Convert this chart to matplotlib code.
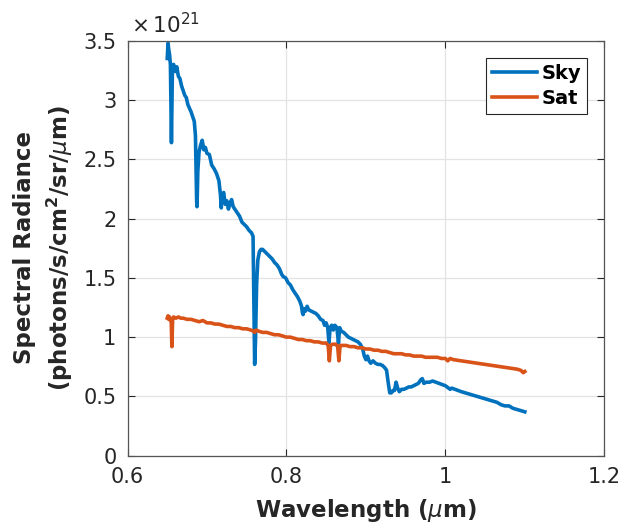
import matplotlib
matplotlib.use("Agg")
import matplotlib.pyplot as plt
from matplotlib.ticker import FixedLocator, FuncFormatter

plt.rcParams['font.family'] = ['DejaVu Sans']
plt.rcParams['mathtext.fontset'] = 'dejavusans'

# Wavelength grid (micrometres) and radiance in units of 1e21 photons/s/cm^2/sr/um
sky_wavelength = [
    0.650, 0.651, 0.652, 0.653, 0.654, 0.6553, 0.6565, 0.658, 0.660, 0.662,
    0.664, 0.666, 0.668, 0.670, 0.672, 0.674, 0.676, 0.678, 0.680, 0.682,
    0.684, 0.6855, 0.6870, 0.6875, 0.6885, 0.690, 0.692, 0.694, 0.696, 0.698,
    0.700, 0.703, 0.706, 0.709, 0.712, 0.715, 0.717, 0.718, 0.719, 0.721,
    0.723, 0.725, 0.727, 0.729, 0.731, 0.733, 0.735, 0.738, 0.741, 0.744,
    0.747, 0.750, 0.753, 0.756, 0.758, 0.7592, 0.7600, 0.7610, 0.7625, 0.764,
    0.766, 0.768, 0.770, 0.773, 0.776, 0.779, 0.782, 0.785, 0.788, 0.791,
    0.794, 0.796, 0.799, 0.802, 0.805, 0.808, 0.811, 0.814, 0.817, 0.819,
    0.820, 0.821, 0.822, 0.824, 0.826, 0.828, 0.831, 0.834, 0.837, 0.840,
    0.843, 0.846, 0.848, 0.850, 0.852, 0.8535, 0.855, 0.857, 0.859, 0.861,
    0.8635, 0.8655, 0.867, 0.869, 0.872, 0.875, 0.878, 0.881, 0.884, 0.887,
    0.890, 0.893, 0.896, 0.898, 0.900, 0.902, 0.904, 0.906, 0.909, 0.912,
    0.915, 0.918, 0.921, 0.924, 0.926, 0.928, 0.930, 0.932, 0.934, 0.936,
    0.938, 0.940, 0.942, 0.945, 0.948, 0.951, 0.954, 0.957, 0.960, 0.963,
    0.966, 0.969, 0.971, 0.973, 0.976, 0.980, 0.984, 0.988, 0.992, 0.996,
    1.000, 1.004, 1.006, 1.008, 1.012, 1.016, 1.020, 1.025, 1.030, 1.035,
    1.040, 1.045, 1.050, 1.055, 1.060, 1.065, 1.070, 1.075, 1.080, 1.085,
    1.090, 1.095, 1.100,
]
sky_radiance = [
    3.35, 3.48, 3.42, 3.38, 3.30, 2.64, 3.25, 3.30, 3.24, 3.28,
    3.20, 3.18, 3.12, 3.08, 3.04, 3.02, 2.96, 2.93, 2.90, 2.86,
    2.82, 2.70, 2.15, 2.10, 2.40, 2.56, 2.62, 2.66, 2.58, 2.60,
    2.55, 2.54, 2.45, 2.42, 2.38, 2.32, 2.20, 2.09, 2.18, 2.22,
    2.12, 2.15, 2.08, 2.13, 2.16, 2.10, 2.08, 2.05, 2.02, 1.97,
    1.95, 1.93, 1.90, 1.88, 1.85, 1.20, 0.77, 0.95, 1.45, 1.65,
    1.72, 1.74, 1.74, 1.72, 1.70, 1.68, 1.66, 1.63, 1.61, 1.58,
    1.53, 1.51, 1.50, 1.46, 1.44, 1.40, 1.37, 1.34, 1.30, 1.26,
    1.21, 1.19, 1.24, 1.22, 1.26, 1.23, 1.22, 1.21, 1.20, 1.18,
    1.15, 1.14, 1.10, 1.12, 1.08, 0.95, 1.08, 1.10, 1.06, 1.10,
    1.08, 0.95, 1.08, 1.05, 1.04, 1.02, 1.00, 0.99, 0.98, 0.97,
    0.96, 0.94, 0.90, 0.84, 0.81, 0.84, 0.80, 0.78, 0.80, 0.78,
    0.77, 0.77, 0.76, 0.74, 0.72, 0.62, 0.53, 0.53, 0.55, 0.55,
    0.62, 0.57, 0.54, 0.56, 0.56, 0.57, 0.58, 0.58, 0.59, 0.60,
    0.61, 0.64, 0.65, 0.61, 0.62, 0.62, 0.63, 0.62, 0.61, 0.60,
    0.59, 0.57, 0.56, 0.57, 0.56, 0.55, 0.54, 0.53, 0.52, 0.51,
    0.50, 0.49, 0.48, 0.47, 0.46, 0.45, 0.43, 0.42, 0.42, 0.40,
    0.39, 0.38, 0.37,
]

sat_wavelength = [
    0.650, 0.651, 0.652, 0.653, 0.654, 0.655, 0.6558, 0.6568, 0.658, 0.661,
    0.664, 0.667, 0.670, 0.675, 0.680, 0.685, 0.690, 0.695, 0.700, 0.705,
    0.710, 0.715, 0.720, 0.725, 0.730, 0.735, 0.740, 0.745, 0.750, 0.755,
    0.759, 0.760, 0.762, 0.765, 0.770, 0.775, 0.780, 0.785, 0.790, 0.795,
    0.800, 0.805, 0.810, 0.815, 0.820, 0.825, 0.830, 0.835, 0.840, 0.845,
    0.850, 0.8525, 0.8540, 0.8555, 0.858, 0.862, 0.8645, 0.8660, 0.8675, 0.870,
    0.875, 0.880, 0.885, 0.890, 0.895, 0.900, 0.905, 0.910, 0.915, 0.920,
    0.925, 0.930, 0.935, 0.940, 0.945, 0.950, 0.955, 0.960, 0.965, 0.970,
    0.975, 0.980, 0.985, 0.990, 0.995, 1.000, 1.003, 1.006, 1.010, 1.020,
    1.030, 1.040, 1.050, 1.060, 1.070, 1.080, 1.090, 1.095, 1.098, 1.100,
]
sat_radiance = [
    1.16, 1.18, 1.15, 1.17, 1.14, 1.15, 0.92, 1.15, 1.17, 1.16,
    1.17, 1.16, 1.16, 1.15, 1.15, 1.14, 1.13, 1.14, 1.12, 1.12,
    1.11, 1.11, 1.10, 1.09, 1.09, 1.08, 1.08, 1.07, 1.07, 1.06,
    1.05, 1.04, 1.06, 1.05, 1.04, 1.04, 1.03, 1.02, 1.02, 1.01,
    1.00, 1.00, 0.99, 0.98, 0.98, 0.97, 0.97, 0.96, 0.96, 0.95,
    0.95, 0.93, 0.80, 0.93, 0.94, 0.94, 0.92, 0.80, 0.93, 0.93,
    0.93, 0.92, 0.92, 0.91, 0.91, 0.90, 0.90, 0.89, 0.89, 0.88,
    0.88, 0.87, 0.86, 0.86, 0.86, 0.85, 0.85, 0.84, 0.84, 0.84,
    0.83, 0.83, 0.83, 0.83, 0.82, 0.82, 0.80, 0.82, 0.81, 0.80,
    0.79, 0.78, 0.77, 0.76, 0.75, 0.74, 0.73, 0.72, 0.70, 0.71,
]

x_ticks = [0.6, 0.8, 1.0, 1.2]
y_ticks = [0, 0.5, 1, 1.5, 2, 2.5, 3, 3.5]
series_labels = ["Sky", "Sat"]
series_colors = ["#0072BD", "#D95319"]
text_color = '#262626'

W, H = 621, 523
fig = plt.figure(figsize=(W / 100, H / 100), dpi=100)
ax = fig.add_axes([127.5 / W, 1 - 455.7 / H, (604.3 - 127.5) / W, (455.7 - 40.7) / H])

ax.plot(sky_wavelength, sky_radiance, color=series_colors[0], lw=2.6,
        label=series_labels[0], solid_joinstyle='round')
ax.plot(sat_wavelength, sat_radiance, color=series_colors[1], lw=2.6,
        label=series_labels[1], solid_joinstyle='round')

ax.set_xlim(0.6, 1.2)
ax.set_ylim(0, 3.5)
ax.xaxis.set_major_locator(FixedLocator(x_ticks))
ax.yaxis.set_major_locator(FixedLocator(y_ticks))
fmt = FuncFormatter(lambda v, p: f"{v:g}")
ax.xaxis.set_major_formatter(fmt)
ax.yaxis.set_major_formatter(fmt)

ax.grid(True, color='#e3e3e3', lw=0.9)
ax.set_axisbelow(True)
ax.tick_params(direction='in', length=5, width=0.8, color=text_color,
               top=True, right=True, labelsize=15, labelcolor=text_color, pad=8)
for s in ax.spines.values():
    s.set_color('#555555')
    s.set_linewidth(0.9)

ax.set_xlabel("Wavelength ($\\mu$m)", fontsize=16.5, fontweight='bold',
              color=text_color, labelpad=7)

fig.text(25 / W, 1 - 248 / H, "Spectral Radiance", rotation=90, fontsize=16.5,
         fontweight='bold', color=text_color, ha='center', va='center')
fig.text(60 / W, 1 - 248 / H, "(photons/s/cm$^\\mathbf{2}$/sr/$\\mu$m)", rotation=90,
         fontsize=16.5, fontweight='bold', color=text_color, ha='center', va='center')

fig.text(131 / W, 1 - 33 / H, "$\\times\\,$10$^{21}$", fontsize=15.5, color=text_color,
         ha='left', va='baseline')

leg = ax.legend(loc='upper right', bbox_to_anchor=(587.3 / W, 1 - 58.3 / H),
                bbox_transform=fig.transFigure, borderaxespad=0, fancybox=False,
                framealpha=1, edgecolor=text_color, prop={'weight': 'bold', 'size': 14},
                handlelength=2.3, handletextpad=0.25, labelspacing=0.3,
                borderpad=0.3)
leg.get_frame().set_linewidth(0.8)

fig.savefig("out.png", dpi=100)
